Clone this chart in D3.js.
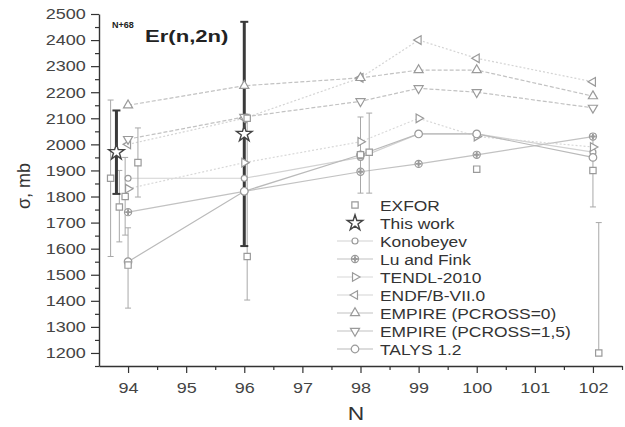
<!DOCTYPE html>
<html>
<head>
<meta charset="utf-8">
<script src="https://cdn.jsdelivr.net/npm/d3@7"></script>
<style>
  body { margin: 0; background: #fff; }
  text { font-family: "Liberation Sans", Arial, sans-serif; }
</style>
</head>
<body>
<div id="chart"></div>
<script>
// theory values at N = 94, 96, 98, 99, 100, 102
const nTheory = [94, 96, 98, 99, 100, 102];
const konobeyev = [1870, 1870, 1950, 2040, 2040, 1970];
const luFink = [1740, 1820, 1895, 1925, 1960, 2030];
const tendl = [1830, 1930, 2010, 2100, 2030, 1990];
const endf = [2000, 2100, 2255, 2400, 2330, 2240];
const empire0 = [2150, 2225, 2255, 2285, 2285, 2185];
const empire15 = [2020, 2105, 2165, 2215, 2200, 2140];
const talys = [1550, 1820, 1960, 2040, 2040, 1950];

// EXFOR measurements (slightly shifted in N like the original)
const exforN = [93.7, 93.85, 93.95, 94.0, 94.17, 96.05, 96.05, 98.0, 98.15, 100.0, 102.0, 102.1];
const exforVal = [1870, 1760, 1800, 1537, 1930, 2100, 1570, 1960, 1970, 1905, 1900, 1200];
const exforLo = [1570, 1626, 1652, 1372, 1798, 2100, 1403, 1813, 1813, 1905, 1760, 1200];
const exforHi = [2170, 1900, 1950, 1680, 2063, 2100, 2100, 2105, 2120, 1905, 2040, 1700];

// this work
const workN = [93.8, 96.0];
const workVal = [1970, 2040];
const workLo = [1810, 1610];
const workHi = [2130, 2470];

const yTicks = d3.range(1200, 2501, 100);
const xTicks = d3.range(94, 103, 1);

var margin = { top: 14, bottom: 61, left: 99, right: 3 };
var width = 625 - margin.left - margin.right;
var height = 427 - margin.top - margin.bottom;

var svg = d3.select("#chart").append("svg")
    .attr("width", 625)
    .attr("height", 427);

const g = svg.append("g").attr("transform", `translate(${margin.left},${margin.top})`);

const x = d3.scaleLinear().domain([93.5, 102.5]).range([0, width]);
const y = d3.scaleLinear().domain([1150, 2500]).range([height, 0]);

const axisColor = "#333";

// minor ticks first
g.append("g").attr("transform", `translate(0,${height})`)
    .call(d3.axisBottom(x).tickValues(d3.range(94.5, 102.6, 1)).tickSize(4).tickFormat(""))
    .call(a => a.select(".domain").remove());
g.append("g")
    .call(d3.axisLeft(y).tickValues(d3.range(1150, 2500, 100)).tickSize(4).tickFormat(""))
    .call(a => a.select(".domain").remove());

const gx = g.append("g").attr("transform", `translate(0,${height})`)
    .call(d3.axisBottom(x).tickValues(xTicks).tickSize(7).tickSizeOuter(0).tickFormat(d3.format("d")));
gx.selectAll("text").attr("y", 16).attr("transform", "scale(1.2,1)");

const gy = g.append("g")
    .call(d3.axisLeft(y).tickValues(yTicks).tickSize(8).tickSizeOuter(0).tickFormat(d3.format("d")));
gy.selectAll("text").attr("x", -11).attr("transform", "scale(1.2,1)");

g.selectAll(".tick line").attr("stroke", axisColor).attr("stroke-width", 1.2);
g.selectAll(".domain").attr("stroke", axisColor).attr("stroke-width", 1.4);
g.selectAll(".tick text").attr("font-size", 15).attr("fill", "#444")
    .attr("font-family", "Liberation Sans, Arial, sans-serif");

const series = [
    { name: "Konobeyev", vals: konobeyev, shape: "circle", size: 28, line: "#d2d2d2", dash: null },
    { name: "Lu and Fink", vals: luFink, shape: "plus", size: 40, line: "#c2c2c2", dash: null },
    { name: "TENDL-2010", vals: tendl, shape: "tri", rot: 90, size: 32, line: "#d8d8d8", dash: "2,2" },
    { name: "ENDF/B-VII.0", vals: endf, shape: "tri", rot: -90, size: 32, line: "#d4d4d4", dash: "2,2" },
    { name: "EMPIRE (PCROSS=0)", vals: empire0, shape: "tri", rot: 0, size: 36, line: "#c2c2c2", dash: "4,2" },
    { name: "EMPIRE (PCROSS=1,5)", vals: empire15, shape: "tri", rot: 180, size: 36, line: "#c2c2c2", dash: "4,2" },
    { name: "TALYS 1.2", vals: talys, shape: "circle", size: 45, line: "#bababa", dash: null }
];

const markColor = "#9a9a9a";

function drawSymbol(sel, s, cx, cy) {
    if (s.shape === "circle") {
        sel.append("path").attr("d", d3.symbol().type(d3.symbolCircle).size(s.size)())
            .attr("transform", `translate(${cx},${cy})`)
            .attr("fill", "#fff").attr("stroke", markColor).attr("stroke-width", 1.2);
    } else if (s.shape === "plus") {
        sel.append("path").attr("d", d3.symbol().type(d3.symbolCircle).size(s.size)())
            .attr("transform", `translate(${cx},${cy})`)
            .attr("fill", "#fff").attr("stroke", markColor).attr("stroke-width", 1.2);
        sel.append("path").attr("d", d3.symbol().type(d3.symbolCross).size(18)())
            .attr("transform", `translate(${cx},${cy})`)
            .attr("fill", markColor);
    } else if (s.shape === "tri") {
        sel.append("path").attr("d", d3.symbol().type(d3.symbolTriangle).size(s.size)())
            .attr("transform", `translate(${cx},${cy}) rotate(${s.rot})`)
            .attr("fill", "#fff").attr("stroke", markColor).attr("stroke-width", 1.2);
    } else if (s.shape === "square") {
        sel.append("path").attr("d", d3.symbol().type(d3.symbolSquare).size(s.size)())
            .attr("transform", `translate(${cx},${cy})`)
            .attr("fill", "#fff").attr("stroke", markColor).attr("stroke-width", 1.2);
    } else if (s.shape === "star") {
        sel.append("path").attr("d", d3.symbol().type(d3.symbolStar).size(s.size)())
            .attr("transform", `translate(${cx},${cy})`)
            .attr("fill", "#fff").attr("stroke", "#444").attr("stroke-width", 1.4);
    }
}

// theory lines
const line = d3.line().x((d, i) => x(nTheory[i])).y(d => y(d));
series.forEach(s => {
    g.append("path").datum(s.vals).attr("d", line)
        .attr("fill", "none").attr("stroke", s.line).attr("stroke-width", 1.2)
        .attr("stroke-dasharray", s.dash);
});

// EXFOR error bars
const exfor = exforN.map((n, i) => ({ n, v: exforVal[i], lo: exforLo[i], hi: exforHi[i] }));
const eg = g.append("g").attr("stroke", "#a8a8a8").attr("stroke-width", 1);
exfor.filter(d => d.hi > d.lo).forEach(d => {
    eg.append("line").attr("x1", x(d.n)).attr("x2", x(d.n)).attr("y1", y(d.lo)).attr("y2", y(d.hi));
    eg.append("line").attr("x1", x(d.n) - 3).attr("x2", x(d.n) + 3).attr("y1", y(d.lo)).attr("y2", y(d.lo));
    eg.append("line").attr("x1", x(d.n) - 3).attr("x2", x(d.n) + 3).attr("y1", y(d.hi)).attr("y2", y(d.hi));
});

// this work error bars
const work = workN.map((n, i) => ({ n, v: workVal[i], lo: workLo[i], hi: workHi[i] }));
const wg = g.append("g").attr("stroke", "#3a3a3a");
work.forEach(d => {
    wg.append("line").attr("x1", x(d.n)).attr("x2", x(d.n)).attr("y1", y(d.lo)).attr("y2", y(d.hi)).attr("stroke-width", 3);
    wg.append("line").attr("x1", x(d.n) - 4).attr("x2", x(d.n) + 4).attr("y1", y(d.lo)).attr("y2", y(d.lo)).attr("stroke-width", 2);
    wg.append("line").attr("x1", x(d.n) - 4).attr("x2", x(d.n) + 4).attr("y1", y(d.hi)).attr("y2", y(d.hi)).attr("stroke-width", 2);
});

// theory markers
const mg = g.append("g");
series.forEach(s => {
    s.vals.forEach((v, i) => drawSymbol(mg, s, x(nTheory[i]), y(v)));
});

// EXFOR markers
const exforStyle = { shape: "square", size: 40 };
exfor.forEach(d => drawSymbol(mg, exforStyle, x(d.n), y(d.v)));

// this work markers
const workStyle = { shape: "star", size: 75 };
work.forEach(d => drawSymbol(mg, workStyle, x(d.n), y(d.v)));

// legend
const legendItems = [
    { name: "EXFOR", style: exforStyle, line: null },
    { name: "This work", style: workStyle, line: null }
].concat(series.map(s => ({ name: s.name, style: s, line: s.line })));

const lg = svg.append("g").attr("transform", "translate(355,205)");
legendItems.forEach((d, i) => {
    const row = lg.append("g").attr("transform", `translate(0,${i * 18})`);
    if (d.line) {
        row.append("line").attr("x1", -18).attr("x2", 18).attr("y1", 0).attr("y2", 0)
            .attr("stroke", d.line).attr("stroke-width", 1.2);
    }
    drawSymbol(row, d.style, 0, 0);
    row.append("text").attr("transform", "translate(25,6) scale(1.2,1)")
        .attr("font-size", 14.5).attr("fill", "#333").text(d.name);
});

// title
const title = svg.append("text").attr("transform", "translate(112,41)").attr("font-weight", "bold").attr("fill", "#222");
title.append("tspan").attr("font-size", 9).attr("dy", -13).text("N+68");
svg.append("text").attr("transform", "translate(145,42) scale(1.3,1)")
    .attr("font-weight", "bold").attr("font-size", 17).attr("fill", "#222").text("Er(n,2n)");

// axis titles
svg.append("text").attr("transform", "translate(30,186) rotate(-90)")
    .attr("text-anchor", "middle").attr("font-size", 18).attr("fill", "#333").text("σ, mb");
svg.append("text").attr("transform", "translate(356,420) scale(1.2,1)")
    .attr("text-anchor", "middle").attr("font-size", 19).attr("fill", "#333").text("N");
</script>
</body>
</html>
